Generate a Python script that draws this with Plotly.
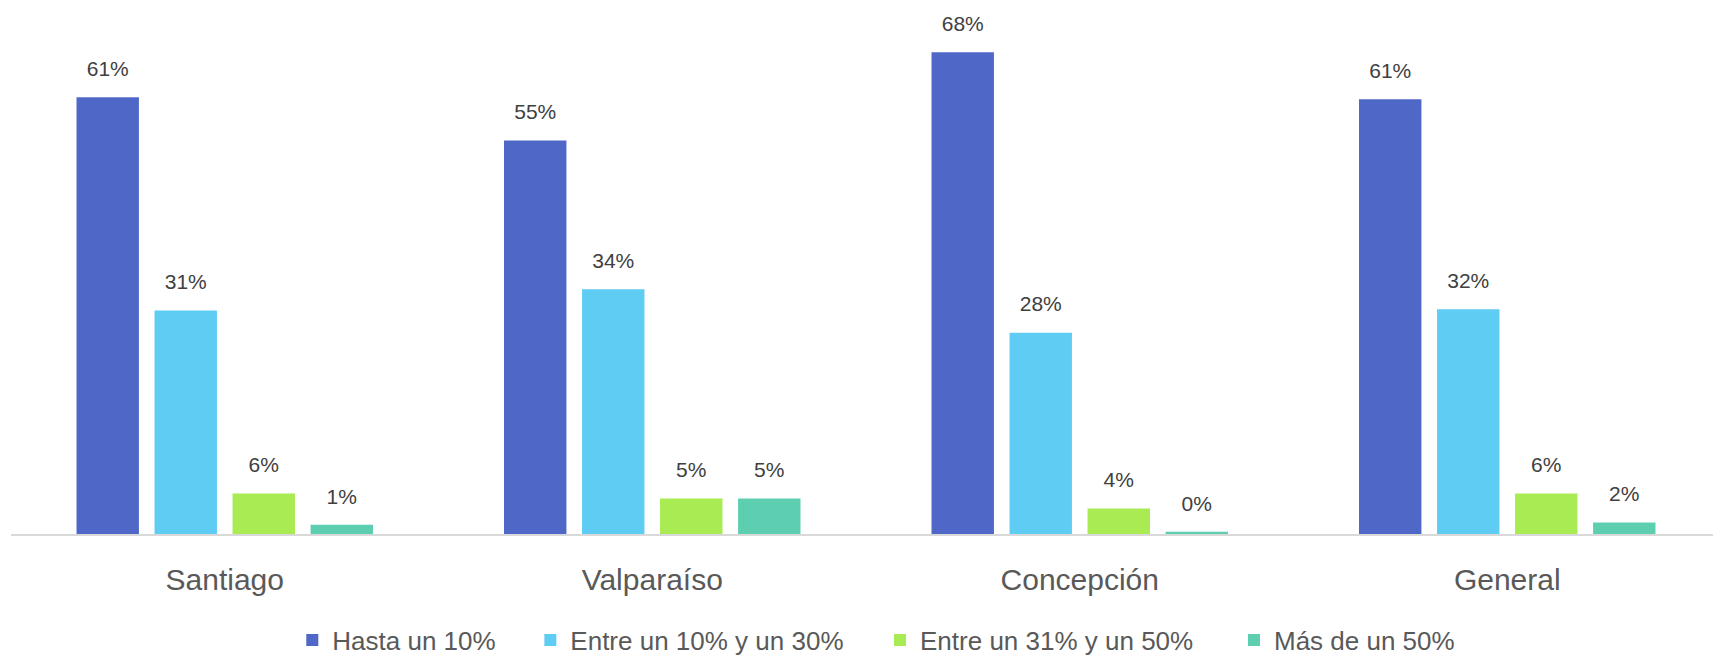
import plotly.graph_objects as go

# Categorias y series (porcentajes)
ciudades = ['Santiago', 'Valparaíso', 'Concepción', 'General']
series = ['Hasta un 10%', 'Entre un 10% y un 30%', 'Entre un 31% y un 50%', 'Más de un 50%']
hasta10 = [61.4, 55.3, 67.7, 61.1]
entre10_30 = [31.4, 34.4, 28.3, 31.6]
entre31_50 = [5.7, 5.0, 3.6, 5.7]
mas50 = [1.3, 5.0, 0.3, 1.6]

colores = ['#4F68C8', '#5FCDF3', '#A8EB52', '#5DCFB0']
valores = [hasta10, entre10_30, entre31_50, mas50]
# posicion horizontal de cada leyenda (fraccion del area de trazado)
leyenda_x = [0.1645, 0.3037, 0.5082, 0.7152]

fig = go.Figure()
for i, (nombre, vals, color) in enumerate(zip(series, valores, colores)):
    ley = 'legend' if i == 0 else f'legend{i + 1}'
    fig.add_trace(go.Bar(
        x=ciudades, y=vals, name=nombre, legend=ley,
        marker=dict(color=color, line=dict(width=0)),
    ))
    # etiquetas de valor, separadas de la barra con un marcador invisible
    fig.add_trace(go.Scatter(
        x=ciudades, y=vals, mode='markers+text', showlegend=False,
        marker=dict(size=24, color='rgba(0,0,0,0)'),
        text=[f'{v:.0f}%' for v in vals], textposition='top center',
        textfont=dict(size=21, color='#404040'),
        cliponaxis=False, hoverinfo='skip',
    ))

legend_style = dict(orientation='h', xanchor='left', y=-0.213, yanchor='middle',
                    font=dict(size=26, color='#595959'), itemwidth=30,
                    bgcolor='rgba(0,0,0,0)')
# la pagina deja 8 px de margen, por eso la figura es algo menor que la ventana
fig.update_layout(
    width=1713, height=649,
    margin=dict(l=3, r=0, t=28, b=123, autoexpand=False),
    plot_bgcolor='white', paper_bgcolor='white',
    font=dict(family='Liberation Sans, Arial, sans-serif', color='#595959'),
    barmode='group', bargap=0.27, bargroupgap=0.2,
    scattermode='group', scattergap=0.27,
    showlegend=True,
    legend=dict(x=leyenda_x[0], **legend_style),
    legend2=dict(x=leyenda_x[1], **legend_style),
    legend3=dict(x=leyenda_x[2], **legend_style),
    legend4=dict(x=leyenda_x[3], **legend_style),
)
fig.update_xaxes(showline=True, linecolor='#D9D9D9', linewidth=2, showgrid=False,
                 tickfont=dict(size=30, color='#595959'), ticks='', ticklabelstandoff=18)
fig.update_yaxes(range=[0, 70], visible=False, showgrid=False, zeroline=False)

fig.write_html("out.html")
